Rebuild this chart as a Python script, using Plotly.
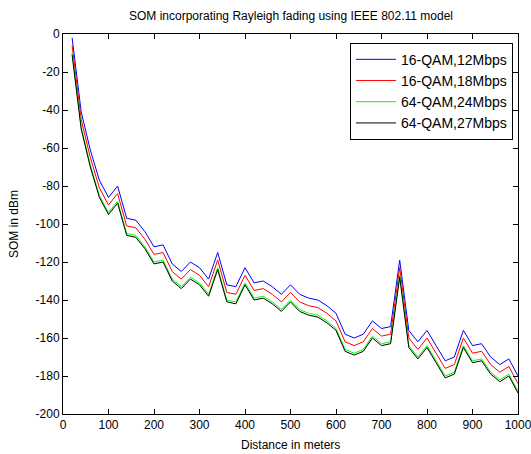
import plotly.graph_objects as go

distance = [20, 40, 60, 80, 100, 120, 140, 160, 180, 200,
            220, 240, 260, 280, 300, 320, 340, 360, 380, 400,
            420, 440, 460, 480, 500, 520, 540, 560, 580, 600,
            620, 640, 660, 680, 700, 720, 740, 760, 780, 800,
            820, 840, 860, 880, 900, 920, 940, 960, 980, 1000]

som_16qam_12 = [-2, -41, -61, -77, -86, -80, -97, -98, -104, -112,
                -111, -121, -125, -120, -123, -129, -115, -132, -133, -123,
                -131, -130, -133, -137, -132, -137, -139, -140, -143, -147,
                -158, -160, -158, -151, -155, -154, -119, -156, -162, -156,
                -164, -172, -170, -156, -164, -163, -170, -174, -171, -180]

som_16qam_18 = [-6, -45, -65, -81, -90, -84, -101, -102, -108, -116,
                -115, -125, -129, -124, -127, -133, -119, -136, -137, -127,
                -135, -134, -137, -141, -136, -141, -143, -144, -147, -151,
                -162, -164, -162, -155, -159, -158, -123, -160, -166, -160,
                -168, -176, -174, -160, -168, -167, -174, -178, -175, -184]

som_64qam_24 = [-10, -49, -69, -85, -94, -88, -105, -106, -112, -120,
                -119, -129, -133, -128, -131, -137, -123, -140, -141, -131,
                -139, -138, -141, -145, -140, -145, -147, -148, -151, -155,
                -166, -168, -166, -159, -163, -162, -127, -164, -170, -164,
                -172, -180, -178, -164, -172, -171, -178, -182, -179, -188]

som_64qam_27 = [-11, -50, -70, -86, -95, -89, -106, -107, -113, -121,
                -120, -130, -134, -129, -132, -138, -124, -141, -142, -132,
                -140, -139, -142, -146, -141, -146, -148, -149, -152, -156,
                -167, -169, -167, -160, -164, -163, -128, -165, -171, -165,
                -173, -181, -179, -165, -173, -172, -179, -183, -180, -189]

series_names = ["16-QAM,12Mbps", "16-QAM,18Mbps", "64-QAM,24Mbps", "64-QAM,27Mbps"]
series_values = [som_16qam_12, som_16qam_18, som_64qam_24, som_64qam_27]
series_colors = ["#0000FF", "#FF0000", "#00FF00", "#000000"]

x_ticks = [0, 100, 200, 300, 400, 500, 600, 700, 800, 900, 1000]
y_ticks = [-200, -180, -160, -140, -120, -100, -80, -60, -40, -20, 0]

FONT = "Liberation Sans, Arial, sans-serif"

fig = go.Figure()
for name, vals, col in zip(series_names, series_values, series_colors):
    fig.add_trace(go.Scatter(x=distance, y=vals, mode="lines", name=name,
                             line=dict(color=col, width=1)))

axis_common = dict(showline=True, linecolor="black", linewidth=1, mirror="allticks",
                   ticks="inside", ticklen=5, tickcolor="black", showgrid=False,
                   zeroline=False, ticklabeloverflow="allow", automargin=False,
                   tickfont=dict(family=FONT, size=12, color="black"))

fig.update_xaxes(range=[0, 1000], tickvals=x_ticks, ticktext=[str(v) for v in x_ticks],
                 **axis_common)
fig.update_yaxes(range=[-200, 0], tickvals=y_ticks, ticktext=[str(v) for v in y_ticks],
                 **axis_common)

fig.update_layout(
    width=531, height=454,
    margin=dict(l=63, r=13, t=34, b=40, autoexpand=False),
    paper_bgcolor="white", plot_bgcolor="white",
    font=dict(family=FONT, size=12, color="black"),
    showlegend=True,
    legend=dict(x=0.989, y=0.977, xanchor="right", yanchor="top",
                bordercolor="black", borderwidth=1, bgcolor="white",
                itemwidth=40, tracegroupgap=0,
                font=dict(family=FONT, size=14, color="black")),
    annotations=[
        dict(text="SOM incorporating Rayleigh fading using IEEE 802.11 model",
             xref="paper", yref="paper", x=0.5, y=1, yshift=9, yanchor="bottom",
             showarrow=False, font=dict(family=FONT, size=12)),
        dict(text="Distance in meters", xref="paper", yref="paper", x=0.5, y=0,
             yshift=-22, yanchor="top", showarrow=False, font=dict(family=FONT, size=12)),
        dict(text="SOM in dBm", xref="paper", yref="paper", x=0, y=0.5, xshift=-40,
             xanchor="right", textangle=-90, showarrow=False, font=dict(family=FONT, size=12)),
    ],
)

fig.write_html("out.html", config={"displayModeBar": False},
               post_script="document.body.style.margin='0';document.body.style.overflow='hidden';")
